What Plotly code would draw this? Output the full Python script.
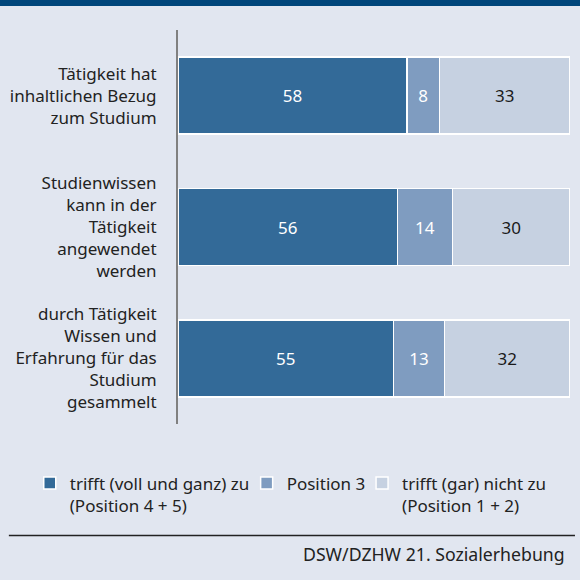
import plotly.graph_objects as go

categories = [
    "Tätigkeit hat<br>inhaltlichen Bezug<br>zum Studium",
    "Studienwissen<br>kann in der<br>Tätigkeit<br>angewendet<br>werden",
    "durch Tätigkeit<br>Wissen und<br>Erfahrung für das<br>Studium<br>gesammelt",
]
series_names = [
    "trifft (voll und ganz) zu<br>(Position 4 + 5)",
    "Position 3",
    "trifft (gar) nicht zu<br>(Position 1 + 2)",
]
agree = [58.4, 56, 55]
neutral = [8.3, 14, 13]
disagree = [33.3, 30, 32]
source_text = "DSW/DZHW 21. Sozialerhebung"

colors = ["#336a98", "#7f9cc0", "#c6d1e1"]
text_colors = ["#ffffff", "#ffffff", "#1a1a1a"]
legend_ids = ["legend", "legend2", "legend3"]
FONT = "Noto Sans"
FS = 17
BG = "#e1e6f0"

# plot area in pixels: x 176..570, y 30..424
L, T, W, H = 176, 30, 394, 394


def px_x(p):
    return (p - L) / W


def px_y(p):
    return 1 - (p - T) / H


fig = go.Figure()
for name, vals, c, tc, lg in zip(series_names, [agree, neutral, disagree], colors, text_colors, legend_ids):
    fig.add_trace(go.Bar(
        y=categories, x=vals, name=name, orientation="h", legend=lg,
        marker=dict(color=c, line=dict(color="#ffffff", width=1.5)),
        texttemplate="%{x:.0f}", textposition="inside", insidetextanchor="middle",
        textangle=0, textfont=dict(color=tc, size=FS, family=FONT),
        hoverinfo="skip",
    ))

legend_common = dict(
    orientation="h", xanchor="left", yanchor="top", y=px_y(465.5),
    valign="top", itemwidth=30,
    font=dict(size=FS, color="#222222", family=FONT),
    bgcolor="rgba(0,0,0,0)", itemclick=False, itemdoubleclick=False,
)

fig.update_layout(
    width=580, height=580,
    barmode="stack", bargap=0.414,
    paper_bgcolor=BG, plot_bgcolor=BG,
    margin=dict(l=L, r=580 - L - W, t=T, b=580 - T - H, pad=0),
    font=dict(family=FONT, size=FS, color="#222222"),
    showlegend=True,
    legend=dict(legend_common, x=px_x(27)),
    legend2=dict(legend_common, x=px_x(245)),
    legend3=dict(legend_common, x=px_x(361)),
    xaxis=dict(range=[0, 100], visible=False, fixedrange=True),
    yaxis=dict(
        autorange="reversed", showline=True, linecolor="#808080", linewidth=2,
        showgrid=False, zeroline=False, ticks="", ticklabelstandoff=16,
        tickfont=dict(size=FS, color="#222222", family=FONT), fixedrange=True,
    ),
    shapes=[
        dict(type="rect", xref="paper", yref="paper", x0=-1, x1=2,
             y0=px_y(6), y1=px_y(-10), fillcolor="#00467b", line=dict(width=0), layer="above"),
        dict(type="line", xref="paper", yref="paper", x0=px_x(6), x1=px_x(575),
             y0=px_y(535.5), y1=px_y(535.5),
             line=dict(color="#222222", width=1.5)),
    ],
    annotations=[
        dict(text=source_text, xref="paper", yref="paper", x=px_x(567),
             y=px_y(554), xanchor="right", yanchor="middle", showarrow=False,
             font=dict(size=17.7, color="#222222", family=FONT)),
    ],
)

fig.write_html(
    "out.html",
    config={"displayModeBar": False},
    post_script="document.body.style.margin='0';document.body.style.overflow='hidden';",
)
